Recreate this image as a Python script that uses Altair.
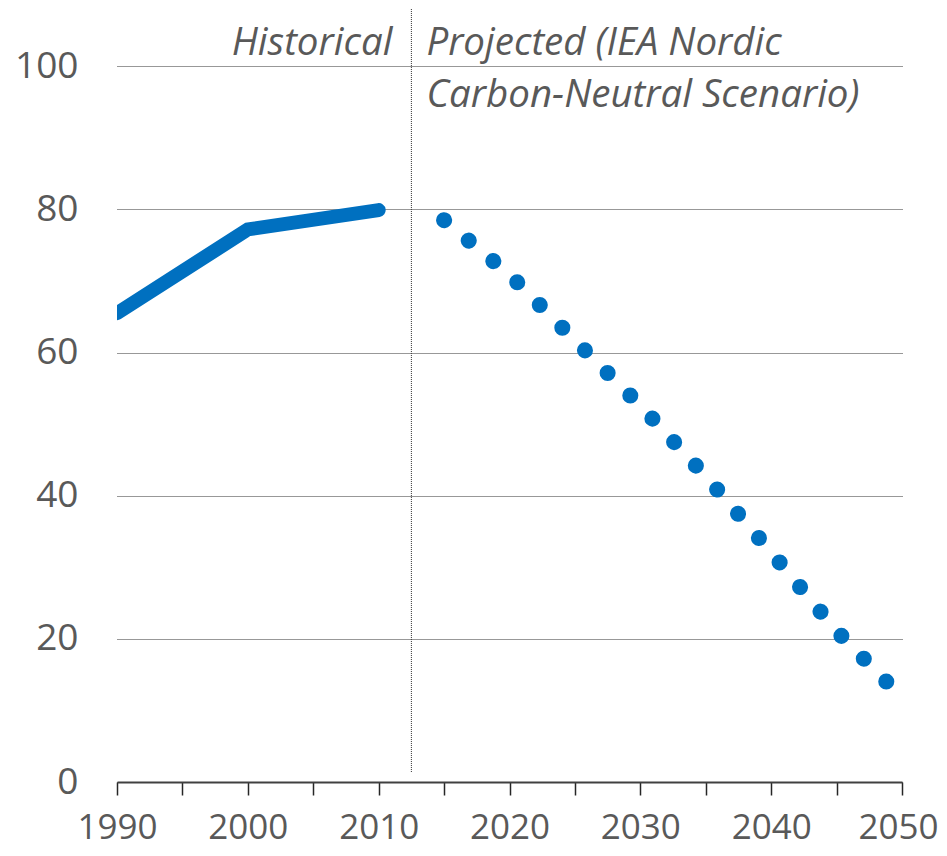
import altair as alt
import pandas as pd

hist_years = [1990, 2000, 2010]
hist_values = [65.5, 77.2, 79.9]
proj_years = [2015, 2020, 2025, 2030, 2035, 2040, 2045, 2050]
proj_values = [78.5, 70.9, 61.7, 52.6, 42.7, 32.1, 21.1, 11.8]
divider_year = 2012.5
y_ticks = [0, 20, 40, 60, 80, 100]
x_ticks = list(range(1990, 2051, 5))

FONT = "Open Sans"
BLUE = "#0070C0"
GREY = "#595959"
DOT = "#303030"

hist = pd.DataFrame({"year": hist_years, "value": hist_values})
proj = pd.DataFrame({"year": proj_years, "value": proj_values})
divider = pd.DataFrame({"year": [divider_year], "y0": [1.4], "y1": [108]})
labels = pd.DataFrame({"year": [divider_year], "value": [101.6]})

xs = alt.Scale(domain=[1990, 2050], nice=False, zero=False)
ys = alt.Scale(domain=[0, 108], nice=False)

xaxis = alt.Axis(values=x_ticks, labelExpr="datum.value % 10 == 0 ? datum.value : ''",
                 title=None, grid=False, tickSize=13, tickColor="#262626", tickWidth=1.5,
                 domainColor="#404040", domainWidth=2, labelFontSize=35, labelFont=FONT,
                 labelColor=GREY, labelPadding=15, labelFlush=False,
                 labelOffset={"condition": {"test": "datum.value == 2050", "value": -4}, "value": 0})
yaxis = alt.Axis(values=y_ticks, title=None, domain=False, ticks=False, grid=True,
                 gridDash=[1, 1], gridColor=DOT, gridWidth=1,
                 labelFontSize=37, labelFont=FONT, labelColor=GREY, labelPadding=39)

base_hist = alt.Chart(hist).mark_line(color=BLUE, strokeWidth=14, strokeCap="round", clip=True).encode(
    x=alt.X("year:Q", scale=xs, axis=xaxis),
    y=alt.Y("value:Q", scale=ys, axis=yaxis),
)

proj_line = alt.Chart(proj).mark_line(color=BLUE, strokeWidth=16, strokeCap="round",
                                      strokeDash=[0.1, 31.9]).encode(
    x=alt.X("year:Q", scale=xs),
    y=alt.Y("value:Q", scale=ys),
)

rule = alt.Chart(divider).mark_rule(color=DOT, strokeDash=[1, 1], strokeWidth=1).encode(
    x=alt.X("year:Q", scale=xs),
    y=alt.Y("y0:Q", scale=ys),
    y2="y1:Q",
)

hist_text = alt.Chart(labels).mark_text(text="Historical", align="right", baseline="alphabetic",
                                        dx=-19, fontSize=38.5, font=FONT, fontStyle="italic",
                                        color=GREY).encode(
    x=alt.X("year:Q", scale=xs), y=alt.Y("value:Q", scale=ys))

proj_text = alt.Chart(labels).mark_text(text=["Projected (IEA Nordic", "Carbon-Neutral Scenario)"],
                                        align="left", baseline="alphabetic", dx=15, lineHeight=52,
                                        fontSize=38.5, font=FONT, fontStyle="italic",
                                        color=GREY).encode(
    x=alt.X("year:Q", scale=xs), y=alt.Y("value:Q", scale=ys))

chart = alt.layer(base_hist, proj_line, rule, hist_text, proj_text).properties(
    width=785, height=773,
    autosize=alt.AutoSizeParams(type="none"),
    padding={"left": 109, "top": 1, "right": 36, "bottom": 66},
).configure_view(stroke=None)

chart.save("out.html", embed_options={"renderer": "svg", "actions": False})
